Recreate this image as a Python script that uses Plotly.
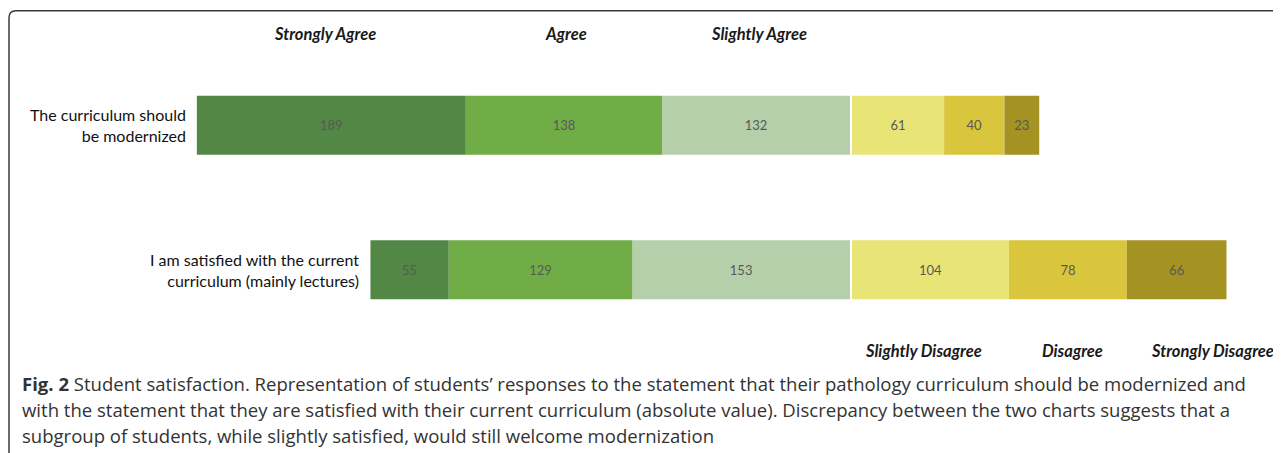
import plotly.graph_objects as go

statements = ["I am satisfied with the current<br>curriculum (mainly lectures)",
              "The curriculum should<br>be modernized"]

# values per statement, in the same order as statements
strongly_agree = [55, 189]
agree = [129, 138]
slightly_agree = [153, 132]
slightly_disagree = [104, 61]
disagree = [78, 40]
strongly_disagree = [66, 23]

agree_side = [("Slightly Agree", slightly_agree, "#b5cfaa"),
              ("Agree", agree, "#70ad47"),
              ("Strongly Agree", strongly_agree, "#528745")]
disagree_side = [("Slightly Disagree", slightly_disagree, "#e8e576"),
                 ("Disagree", disagree, "#d9c63c"),
                 ("Strongly Disagree", strongly_disagree, "#a49222")]

caption = [
    "<b>Fig. 2</b> Student satisfaction. Representation of students’ responses to the statement that their pathology curriculum should be modernized and",
    "with the statement that they are satisfied with their current curriculum (absolute value). Discrepancy between the two charts suggests that a",
    "subgroup of students, while slightly satisfied, would still welcome modernization",
]

# the page body adds an 8px margin, so the figure is laid out 8px smaller
OFF = 8
W, H = 1281 - OFF, 453 - OFF
T, B = 53.25 - OFF, 453 - 342.25
PH = H - T - B


def px(x):
    return (x - OFF) / W


def py(y):
    return (H - B - (y - OFF)) / PH


fig = go.Figure()

for name, vals, color in agree_side:
    fig.add_trace(go.Bar(
        y=[0, 1], x=[-v for v in vals], orientation="h", name=name,
        marker=dict(color=color, line=dict(width=0)),
        text=[str(v) for v in vals], textposition="inside", insidetextanchor="middle",
        textfont=dict(family="Lato", size=13, color="#595959"),
        textangle=0, width=0.41, xaxis="x", yaxis="y",
    ))

for name, vals, color in disagree_side:
    fig.add_trace(go.Bar(
        y=[0, 1], x=vals, orientation="h", name=name,
        marker=dict(color=color, line=dict(width=0)),
        text=[str(v) for v in vals], textposition="inside", insidetextanchor="middle",
        textfont=dict(family="Lato", size=13, color="#595959"),
        textangle=0, width=0.41, xaxis="x2", yaxis="y",
    ))

annotations = []
# statement labels sit just left of each row's bar
for i, label in enumerate(statements):
    total = strongly_agree[i] + agree[i] + slightly_agree[i]
    annotations.append(dict(text=label, x=-total, y=i, xref="x", yref="y",
                            xanchor="right", yanchor="middle", align="right", xshift=-9,
                            showarrow=False, font=dict(family="Lato", size=16, color="#111111")))
for label, xc in [("Strongly Agree", 325), ("Agree", 566), ("Slightly Agree", 759)]:
    annotations.append(dict(text="<b><i>" + label + "</i></b>", x=px(xc), y=py(34),
                            xref="paper", yref="paper", xanchor="center", yanchor="middle",
                            showarrow=False, font=dict(family="Lato", size=16.5, color="#1a1a1a")))
for label, xc in [("Slightly Disagree", 924), ("Disagree", 1072), ("Strongly Disagree", 1212)]:
    annotations.append(dict(text="<b><i>" + label + "</i></b>", x=px(xc), y=py(351),
                            xref="paper", yref="paper", xanchor="center", yanchor="middle",
                            showarrow=False, font=dict(family="Lato", size=16.5, color="#1a1a1a")))
for i, line in enumerate(caption):
    annotations.append(dict(text=line, x=px(20), y=py(384 + 26 * i), xref="paper", yref="paper",
                            xanchor="left", yanchor="middle", showarrow=False,
                            font=dict(family="Open Sans", size=18.55, color="#333333")))

# rounded frame at top-left
r = 7
frame = (f"M {px(9)} {py(470)} L {px(9)} {py(11 + r)} "
         f"Q {px(9)} {py(11)} {px(9 + r)} {py(11)} L {px(1300)} {py(11)}")

fig.update_layout(
    width=W, height=H,
    margin=dict(l=0, r=0, t=T, b=B),
    barmode="relative",
    showlegend=False,
    plot_bgcolor="white",
    paper_bgcolor="white",
    xaxis=dict(domain=[0, px(850)], range=[-(850 - OFF) / 1.423, 0], visible=False, fixedrange=True),
    xaxis2=dict(domain=[px(852), 1], range=[0, (1281 - 852) / 1.51], visible=False,
                anchor="y", fixedrange=True),
    yaxis=dict(range=[-0.5, 1.5], visible=False, fixedrange=True),
    annotations=annotations,
    shapes=[dict(type="path", path=frame, xref="paper", yref="paper",
                 line=dict(color="#3a3a3a", width=1.5))],
)

fig.write_html("out.html")
